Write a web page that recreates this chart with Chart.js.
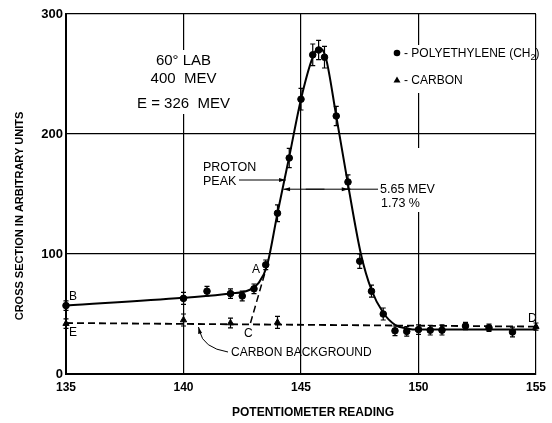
<!DOCTYPE html>
<html>
<head>
<meta charset="utf-8">
<script src="https://cdn.jsdelivr.net/npm/chart.js@4"></script>
<style>
html,body{margin:0;padding:0;background:#fff;}
canvas{display:block;}
</style>
</head>
<body>
<canvas id="c" width="552" height="423"></canvas>
<script>
// polyethylene (CH2) readings
const polyX = [135, 140, 141, 142, 142.5, 143, 143.5, 144, 144.5, 145, 145.5, 145.75, 146, 146.5, 147, 147.5, 148, 148.5, 149, 149.5, 150, 150.5, 151, 152, 153, 154];
const polyY = [57, 63, 69, 67, 65, 71, 91, 134, 180, 229, 266, 270, 264, 215, 160, 94, 69, 50, 36, 35.5, 37, 36.5, 36.5, 40, 38.5, 35];
const polyErr = [4, 5, 4, 4, 4, 4, 4, 7, 8, 9, 9, 8, 9, 8, 6, 6, 5, 5, 4, 4, 4, 4, 4, 3, 3, 4];

// carbon readings
const carbX = [135, 140, 142, 144, 151, 155];
const carbY = [42, 45, 42.5, 43, 38, 39.5];
const carbErr = [4, 5, 4, 5, 3, 3];

// drawn curve through the polyethylene points
const fitX = [135, 140, 142, 142.8, 143.2, 143.55, 144, 144.5, 145, 145.5, 145.75, 146.05, 146.5, 147, 147.55, 148, 148.5, 149, 149.5, 150, 152, 155];
const fitY = [57, 63.5, 67, 70, 76, 90, 134, 181, 229, 264, 272, 264, 215, 158, 100, 70, 51, 41, 38, 37, 37, 37];

// carbon background E-D and extrapolation C-A
const bgX = [135, 155];
const bgY = [42.5, 39.5];
const extX = [142.85, 143.55];
const extY = [42.5, 90];

const xTicks = [135, 140, 145, 150, 155];
const yTicks = [0, 100, 200, 300];

const pts = (xs, ys) => xs.map((x, i) => ({x: x, y: ys[i]}));
const FONT = '"Liberation Sans", Arial, sans-serif';

const overlay = {
  id: 'overlay',
  afterDatasetsDraw(chart) {
    const ctx = chart.ctx;
    const X = v => chart.scales.x.getPixelForValue(v);
    const Y = v => chart.scales.y.getPixelForValue(v);
    ctx.save();

    // breaks in the grid behind the lettering
    ctx.fillStyle = '#fff';
    ctx.fillRect(X(140) - 2, 50, 4, 64);
    ctx.fillRect(X(150) - 2, 45, 4, 48);
    ctx.fillRect(X(150) - 2, 148, 4, 64);

    // error bars
    ctx.strokeStyle = '#000';
    ctx.lineWidth = 1.2;
    ctx.beginPath();
    const bars = (xs, ys, es) => xs.forEach((x, i) => {
      const px = X(x), t = Y(ys[i] + es[i]), b = Y(ys[i] - es[i]);
      ctx.moveTo(px, t); ctx.lineTo(px, b);
      ctx.moveTo(px - 2.5, t); ctx.lineTo(px + 2.5, t);
      ctx.moveTo(px - 2.5, b); ctx.lineTo(px + 2.5, b);
    });
    bars(polyX, polyY, polyErr);
    bars(carbX, carbY, carbErr);
    ctx.stroke();

    const arrow = (x1, y1, x2, y2) => {
      const a = Math.atan2(y2 - y1, x2 - x1);
      ctx.beginPath();
      ctx.moveTo(x1, y1); ctx.lineTo(x2, y2);
      ctx.stroke();
      ctx.beginPath();
      ctx.moveTo(x2, y2);
      ctx.lineTo(x2 - 7 * Math.cos(a - 0.3), y2 - 7 * Math.sin(a - 0.3));
      ctx.lineTo(x2 - 7 * Math.cos(a + 0.3), y2 - 7 * Math.sin(a + 0.3));
      ctx.closePath();
      ctx.fillStyle = '#000';
      ctx.fill();
    };

    ctx.fillStyle = '#000';
    ctx.textBaseline = 'middle';

    // header block
    ctx.textAlign = 'center';
    ctx.font = '15px ' + FONT;
    ctx.fillText('60° LAB', X(140), 61);
    ctx.fillText('400  MEV', X(140), 79);
    ctx.fillText('E = 326  MEV', X(140), 104);

    // legend
    ctx.textAlign = 'left';
    ctx.font = '12px ' + FONT;
    ctx.beginPath(); ctx.arc(397, 53, 3.3, 0, Math.PI * 2); ctx.fill();
    ctx.fillText('- POLYETHYLENE (CH', 404, 54);
    let w = ctx.measureText('- POLYETHYLENE (CH').width;
    ctx.font = '9px ' + FONT;
    ctx.fillText('2', 404 + w, 58);
    let w2 = ctx.measureText('2').width;
    ctx.font = '12px ' + FONT;
    ctx.fillText(')', 404 + w + w2, 54);
    ctx.beginPath(); ctx.moveTo(397, 76.5); ctx.lineTo(400.5, 82.5); ctx.lineTo(393.5, 82.5); ctx.closePath(); ctx.fill();
    ctx.fillText('- CARBON', 404, 81);

    // proton peak
    ctx.font = '12.5px ' + FONT;
    ctx.fillText('PROTON', 203, 168);
    ctx.fillText('PEAK', 203, 182);
    ctx.lineWidth = 1;
    arrow(239, 180, X(144.35), 180);

    // width at half maximum
    const hy = Y(154);
    arrow(X(146.0), hy, X(144.25), hy);
    arrow(X(145.2), hy, X(147.02), hy);
    ctx.beginPath(); ctx.moveTo(X(147.02), hy); ctx.lineTo(378, hy); ctx.stroke();
    ctx.fillText('5.65 MEV', 380, 190);
    ctx.fillText('1.73 %', 381, 204);

    // point letters
    ctx.font = '12px ' + FONT;
    ctx.fillText('A', 252, 270);
    ctx.fillText('B', 69, 297);
    ctx.fillText('E', 69, 333);
    ctx.fillText('C', 244, 334);
    ctx.fillText('D', 528, 319);

    // carbon background label and leader
    ctx.fillText('CARBON BACKGROUND', 231, 353);
    ctx.beginPath();
    ctx.moveTo(228, 352);
    ctx.quadraticCurveTo(203, 348, 199.5, 331);
    ctx.stroke();
    arrow(200, 333, 198.5, 327);

    // axis titles
    ctx.font = 'bold 12px ' + FONT;
    ctx.textAlign = 'center';
    ctx.fillText('POTENTIOMETER READING', 313, 413);
    ctx.translate(20, 216);
    ctx.rotate(-Math.PI / 2);
    ctx.font = 'bold 11px ' + FONT;
    ctx.fillText('CROSS SECTION IN ARBITRARY UNITS', 0, 0);

    ctx.restore();
  }
};

new Chart(document.getElementById('c'), {
  type: 'scatter',
  data: {
    datasets: [
      {
        label: 'fit',
        data: pts(fitX, fitY),
        showLine: true,
        borderColor: '#000',
        borderWidth: 2,
        pointRadius: 0,
        cubicInterpolationMode: 'monotone',
        clip: false
      },
      {
        label: 'background',
        data: pts(bgX, bgY),
        showLine: true,
        borderColor: '#000',
        borderWidth: 1.8,
        borderDash: [7, 4],
        pointRadius: 0,
        clip: false
      },
      {
        label: 'extrapolation',
        data: pts(extX, extY),
        showLine: true,
        borderColor: '#000',
        borderWidth: 1.5,
        borderDash: [7, 4],
        pointRadius: 0,
        clip: false
      },
      {
        label: 'POLYETHYLENE (CH2)',
        data: pts(polyX, polyY),
        pointStyle: 'circle',
        pointRadius: 3.3,
        backgroundColor: '#000',
        borderColor: '#000',
        clip: false
      },
      {
        label: 'CARBON',
        data: pts(carbX, carbY),
        pointStyle: 'triangle',
        pointRadius: 3.6,
        backgroundColor: '#000',
        borderColor: '#000',
        clip: false
      }
    ]
  },
  options: {
    responsive: false,
    animation: false,
    devicePixelRatio: 1,
    layout: {autoPadding: false, padding: {left: 0, right: 12, top: 14, bottom: 0}},
    plugins: {legend: {display: false}, tooltip: {enabled: false}},
    scales: {
      x: {
        type: 'linear',
        min: 135,
        max: 155,
        afterBuildTicks: s => { s.ticks = xTicks.map(v => ({value: v})); },
        afterFit: s => { s.height = 49; },
        grid: {color: '#000', lineWidth: 1.2, drawTicks: false},
        border: {color: '#000', width: 2},
        ticks: {color: '#000', padding: 6, font: {family: FONT, size: 12, weight: 'bold'}}
      },
      y: {
        min: 0,
        max: 300,
        afterBuildTicks: s => { s.ticks = yTicks.map(v => ({value: v})); },
        afterFit: s => { s.width = 66; },
        grid: {color: '#000', lineWidth: 1.2, drawTicks: false},
        border: {color: '#000', width: 2},
        ticks: {color: '#000', padding: 3, font: {family: FONT, size: 13, weight: 'bold'}}
      }
    }
  },
  plugins: [overlay]
});
</script>
</body>
</html>
